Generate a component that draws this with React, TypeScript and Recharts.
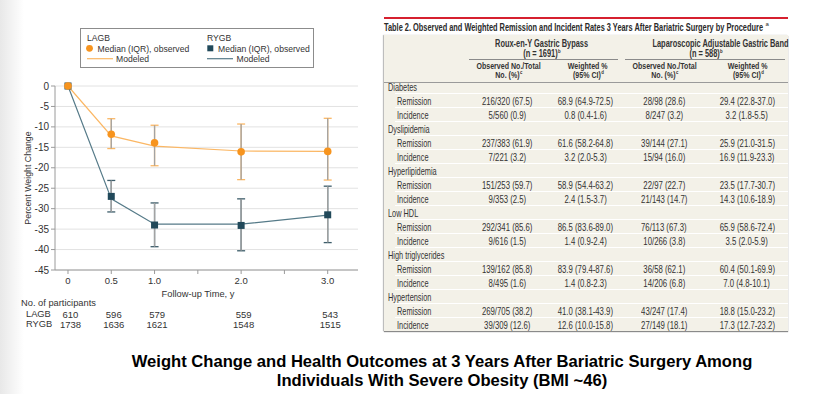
import React from 'react';
import { CartesianGrid, ComposedChart, ErrorBar, Line, Scatter, XAxis, YAxis } from 'recharts';

// follow-up time (years) and values
const times = [0, 0.5, 1, 2, 3];
const lagbMedian = [0, -11.8, -13.9, -16.1, -16.0];
const lagbUpper = [null, -8.0, -9.6, -9.3, -7.9];
const lagbLower = [null, -15.3, -19.5, -22.9, -23.0];
const lagbModeled = [0, -12.2, -14.7, -15.9, -16.0];
const rygbMedian = [0, -27.0, -34.0, -34.1, -31.5];
const rygbUpper = [null, -23.1, -28.6, -27.6, -24.5];
const rygbLower = [null, -30.8, -39.3, -40.3, -38.3];
const rygbModeled = [0, -27.6, -33.8, -33.8, -31.6];
const lagbN = [610, 596, 579, 559, 543];
const rygbN = [1738, 1636, 1621, 1548, 1515];
const xTicks = [0, 0.5, 1, 1.5, 2, 2.5, 3];
const yTicks = [0, -5, -10, -15, -20, -25, -30, -35, -40, -45];

// table 2
const conditions = ['Diabetes', 'Dyslipidemia', 'Hyperlipidemia', 'Low HDL', 'High triglycerides', 'Hypertension'];
const subRows = ['Remission', 'Incidence'];
const rygbObs = ['216/320 (67.5)', '5/560 (0.9)', '237/383 (61.9)', '7/221 (3.2)', '151/253 (59.7)', '9/353 (2.5)', '292/341 (85.6)', '9/616 (1.5)', '139/162 (85.8)', '8/495 (1.6)', '269/705 (38.2)', '39/309 (12.6)'];
const rygbWeighted = ['68.9 (64.9-72.5)', '0.8 (0.4-1.6)', '61.6 (58.2-64.8)', '3.2 (2.0-5.3)', '58.9 (54.4-63.2)', '2.4 (1.5-3.7)', '86.5 (83.6-89.0)', '1.4 (0.9-2.4)', '83.9 (79.4-87.6)', '1.4 (0.8-2.3)', '41.0 (38.1-43.9)', '12.6 (10.0-15.8)'];
const lagbObs = ['28/98 (28.6)', '8/247 (3.2)', '39/144 (27.1)', '15/94 (16.0)', '22/97 (22.7)', '21/143 (14.7)', '76/113 (67.3)', '10/266 (3.8)', '36/58 (62.1)', '14/206 (6.8)', '43/247 (17.4)', '27/149 (18.1)'];
const lagbWeighted = ['29.4 (22.8-37.0)', '3.2 (1.8-5.5)', '25.9 (21.0-31.5)', '16.9 (11.9-23.3)', '23.5 (17.7-30.7)', '14.3 (10.6-18.9)', '65.9 (58.6-72.4)', '3.5 (2.0-5.9)', '60.4 (50.1-69.9)', '7.0 (4.8-10.1)', '18.8 (15.0-23.2)', '17.3 (12.7-23.2)'];

const ORANGE = '#f7941e';
const ORANGE_LIGHT = '#fbb764';
const TEAL = '#21495a';
const TEAL_LINE = '#557a88';
const GRAY = '#a3a3a3';
const ARIAL = "Arial, 'Liberation Sans', sans-serif";

const observed = (med: number[], up: (number | null)[], lo: (number | null)[]) =>
    times.map((t, i) => ({
        t,
        v: med[i],
        err: up[i] === null ? null : [med[i] - (lo[i] as number), (up[i] as number) - med[i]]
    }));

const lagbObserved = observed(lagbMedian, lagbUpper, lagbLower);
const rygbObserved = observed(rygbMedian, rygbUpper, rygbLower);
const lagbModel = times.map((t, i) => ({ t, v: lagbModeled[i] }));
const rygbModel = times.map((t, i) => ({ t, v: rygbModeled[i] }));

// squeezes Arial into something close to the journal's condensed face
const Cond = ({ children, s = 0.8, origin = 'center' }: { children: React.ReactNode; s?: number; origin?: string }) => (
    <span style={{ display: 'inline-block', transform: `scaleX(${s})`, transformOrigin: origin }}>{children}</span>
);

const XTick = (props: any) => {
    const { x, y, payload } = props;
    const i = times.indexOf(payload.value);
    if (i < 0) return <g />;
    const label = payload.value === 0 ? '0' : payload.value.toFixed(1);
    return (
        <g fontFamily={ARIAL} fontSize={9.5} fill="#333">
            <text x={x} y={y + 7.5} textAnchor="middle">{label}</text>
            <text x={x + 2.5} y={y + 41.5} textAnchor="middle">{lagbN[i]}</text>
            <text x={x + 2.5} y={y + 51.5} textAnchor="middle">{rygbN[i]}</text>
        </g>
    );
};

const Legend = () => (
    <svg width={370} height={80} style={{ position: 'absolute', left: 0, top: 0 }} fontFamily={ARIAL} fontSize={8.6} fill="#333">
        <rect x={80.5} y={28.5} width={233} height={39} fill="#fff" stroke="#8c8c8c" />
        <text x={87} y={40.5}>LAGB</text>
        <circle cx={89.5} cy={48.3} r={3.4} fill={ORANGE} />
        <text x={97.5} y={51.5}>Median (IQR), observed</text>
        <line x1={87} x2={113} y1={58.7} y2={58.7} stroke={ORANGE_LIGHT} strokeWidth={1.2} />
        <text x={116} y={62}>Modeled</text>
        <text x={207} y={40.5}>RYGB</text>
        <rect x={207.3} y={45.3} width={6} height={6} fill={TEAL} />
        <text x={218} y={51.5}>Median (IQR), observed</text>
        <line x1={207} x2={233} y1={58.7} y2={58.7} stroke={TEAL_LINE} strokeWidth={1.2} />
        <text x={236.5} y={62}>Modeled</text>
    </svg>
);

const ROW_TOP = 79.3;
const ROW_H = 14;
const colCenters = [507.5, 585.5, 664, 747];

const Table = () => {
    const rows: { label: string; sub: boolean; vals?: string[] }[] = [];
    conditions.forEach((c, ci) => {
        rows.push({ label: c, sub: false });
        subRows.forEach((s, si) => {
            const k = ci * 2 + si;
            rows.push({ label: s, sub: true, vals: [rygbObs[k], rygbWeighted[k], lagbObs[k], lagbWeighted[k]] });
        });
    });
    const head = (text: React.ReactNode, cx: number, top: number, s = 0.72) => (
        <div style={{ position: 'absolute', left: cx - 80, width: 160, top, textAlign: 'center', whiteSpace: 'nowrap', lineHeight: '9px' }}>
            <Cond s={s}>{text}</Cond>
        </div>
    );
    const sup = (s: string) => <sup style={{ fontSize: 6, verticalAlign: 'top', position: 'relative', top: -1.5, marginLeft: 0.5 }}>{s}</sup>;
    return (
        <div style={{ position: 'absolute', left: 0, top: 0, fontFamily: ARIAL, color: '#222' }}>
            <div style={{ position: 'absolute', left: 384, top: 16.5, width: 404, height: 2, background: '#d6202f' }} />
            <svg width={828} height={40} style={{ position: 'absolute', left: 0, top: 0 }} fontFamily={ARIAL}>
                <text x={384} y={30.8} fontSize={11} fontWeight="bold" fill="#2a2a2a" textLength={379} lengthAdjust="spacingAndGlyphs">
                    Table 2. Observed and Weighted Remission and Incident Rates 3 Years After Bariatric Surgery by Procedure
                </text>
                <text x={765.5} y={25.5} fontSize={6} fill="#2a2a2a">a</text>
            </svg>
            <div style={{ position: 'absolute', left: 384, top: 35, width: 404, height: 296.3, background: '#f3f1e8', boxShadow: '0 1px 1px #8a8a8a, -1px 0 1px #c8c8c8' }} />
            <div style={{ fontSize: 10.3, fontWeight: 'bold', color: '#333' }}>
                {head('Roux-en-Y Gastric Bypass', 542, 38.5)}
                {head(<span>(n = 1691){sup('b')}</span>, 542, 48.5)}
                {head('Laparoscopic Adjustable Gastric Band', 706, 38.5)}
                {head(<span>(n = 588){sup('b')}</span>, 706, 48.5)}
            </div>
            <div style={{ fontSize: 9.8, fontWeight: 'bold', color: '#333' }}>
                {head('Observed No./Total', 509, 61)}
                {head(<span>No. (%){sup('c')}</span>, 509, 69.8)}
                {head('Weighted %', 588, 61)}
                {head(<span>(95% CI){sup('d')}</span>, 588, 69.8)}
                {head('Observed No./Total', 665, 61)}
                {head(<span>No. (%){sup('c')}</span>, 665, 69.8)}
                {head('Weighted %', 748, 61)}
                {head(<span>(95% CI){sup('d')}</span>, 748, 69.8)}
            </div>
            <div style={{ position: 'absolute', left: 469, top: 58.5, width: 149, height: 1, background: '#8a8a8a' }} />
            <div style={{ position: 'absolute', left: 625, top: 58.5, width: 160, height: 1, background: '#8a8a8a' }} />
            <div style={{ position: 'absolute', left: 384, top: 81.5, width: 404, height: 1, background: '#9a9a9a' }} />
            {rows.map((r, i) => {
                const top = ROW_TOP + i * ROW_H;
                return (
                    <React.Fragment key={i}>
                        {i > 0 && <div style={{ position: 'absolute', left: 395, top, width: 393, height: 1, background: '#ffffff' }} />}
                        <div style={{ position: 'absolute', left: r.sub ? 397 : 388, top: top + 0.5, height: ROW_H, lineHeight: `${ROW_H}px`, fontSize: 10.5, whiteSpace: 'nowrap', color: '#333' }}>
                            <Cond s={0.7} origin="left">{r.label}</Cond>
                        </div>
                        {r.vals && r.vals.map((v, j) => (
                            <div key={j} style={{ position: 'absolute', left: colCenters[j] - 50, width: 100, top: top + 0.5, height: ROW_H, lineHeight: `${ROW_H}px`, fontSize: 10.5, textAlign: 'center', whiteSpace: 'nowrap', color: '#333' }}>
                                <Cond s={0.74}>{v}</Cond>
                            </div>
                        ))}
                    </React.Fragment>
                );
            })}
        </div>
    );
};

export default function App() {
    return (
        <div style={{ position: 'relative', width: 828, height: 394, background: '#fff', overflow: 'hidden' }}>
            <style>{'body{margin:0}'}</style>
            <div style={{ position: 'absolute', left: 0, top: 0, width: 24, height: 394, background: 'linear-gradient(to right, #e8e8e8, #ffffff)' }} />
            <div style={{ position: 'absolute', left: 0, top: 0 }}>
                <ComposedChart width={370} height={340} margin={{ top: 86, right: 12, bottom: 0, left: 0 }}>
                    <CartesianGrid horizontal vertical={false} stroke="#e2e2e2" />
                    <XAxis
                        dataKey="t"
                        type="number"
                        domain={[-0.15, 3.35]}
                        ticks={xTicks}
                        height={70}
                        tickSize={4}
                        stroke="#9a9a9a"
                        tick={<XTick />}
                        interval={0}
                    />
                    <XAxis
                        xAxisId="top"
                        orientation="top"
                        dataKey="t"
                        type="number"
                        domain={[-0.15, 3.35]}
                        ticks={xTicks}
                        mirror
                        axisLine={false}
                        tick={false}
                        tickSize={4}
                        tickLine={{ stroke: '#9a9a9a' }}
                    />
                    <YAxis
                        type="number"
                        domain={[-45, 0]}
                        ticks={yTicks}
                        width={55}
                        tickSize={4}
                        stroke="#9a9a9a"
                        interval={0}
                        tick={{ fill: '#333', fontSize: 10, fontFamily: ARIAL }}
                        label={{ value: 'Percent Weight Change', angle: -90, position: 'center', fontSize: 8.8, fontFamily: ARIAL, fill: '#333' }}
                    />
                    <Line data={rygbModel} dataKey="v" stroke={TEAL_LINE} strokeWidth={1.2} dot={false} isAnimationActive={false} />
                    <Scatter
                        data={rygbObserved}
                        dataKey="v"
                        isAnimationActive={false}
                        shape={(p: any) => <rect x={p.cx - 3.5} y={p.cy - 3.5} width={7} height={7} fill={TEAL} />}
                    >
                        <ErrorBar dataKey="err" direction="y" width={4} stroke="#3d5d6a" strokeWidth={1.3} isAnimationActive={false} />
                        <ErrorBar dataKey="err" direction="y" width={0} stroke={GRAY} strokeWidth={1.3} isAnimationActive={false} />
                    </Scatter>
                    <Line data={lagbModel} dataKey="v" stroke={ORANGE_LIGHT} strokeWidth={1.2} dot={false} isAnimationActive={false} />
                    <Scatter
                        data={lagbObserved}
                        dataKey="v"
                        isAnimationActive={false}
                        shape={(p: any) => <circle cx={p.cx} cy={p.cy} r={3.8} fill={ORANGE} />}
                    >
                        <ErrorBar dataKey="err" direction="y" width={4} stroke={ORANGE_LIGHT} strokeWidth={1.3} isAnimationActive={false} />
                        <ErrorBar dataKey="err" direction="y" width={0} stroke={GRAY} strokeWidth={1.3} isAnimationActive={false} />
                    </Scatter>
                </ComposedChart>
            </div>
            <div style={{ position: 'absolute', left: 0, top: 0, fontFamily: ARIAL, fontSize: 9.3, color: '#333', whiteSpace: 'nowrap' }}>
                <div style={{ position: 'absolute', left: 198 - 60, width: 120, top: 288.5, textAlign: 'center' }}>Follow-up Time, y</div>
                <div style={{ position: 'absolute', left: 21, top: 297.5 }}>No. of participants</div>
                <div style={{ position: 'absolute', left: 26, top: 308.5 }}>LAGB</div>
                <div style={{ position: 'absolute', left: 26, top: 318.5 }}>RYGB</div>
            </div>
            <Legend />
            <Table />
            <div style={{ position: 'absolute', left: 0, width: 884, top: 352, textAlign: 'center', fontFamily: ARIAL, fontWeight: 'bold', fontSize: 16.6, lineHeight: '19px', color: '#000' }}>
                Weight Change and Health Outcomes at 3 Years After Bariatric Surgery Among
                <br />
                Individuals With Severe Obesity (BMI ~46)
            </div>
        </div>
    );
}
